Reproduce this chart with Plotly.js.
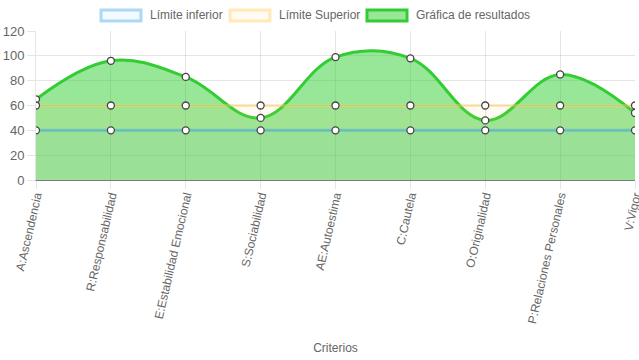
<!DOCTYPE html>
<html>
<head>
<meta charset="utf-8">
<script src="https://cdn.plot.ly/plotly-3.0.1.min.js"></script>
<style>html,body{margin:0;padding:0;background:#fff}#chart{width:639px;height:360px}</style>
</head>
<body>
<div id="chart"></div>
<script>
const categories = ["A:Ascendencia","R:Responsabilidad","E:Estabilidad Emocional","S:Sociabilidad","AE:Autoestima","C:Cautela","O:Originalidad","P:Relaciones Personales","V:Vigor"];
const limiteInferior = [40,40,40,40,40,40,40,40,40];
const limiteSuperior = [60,60,60,60,60,60,60,60,60];
const resultados = [65,96,83,50,99,98,48,85,54];
const seriesNames = ["Límite inferior","Límite Superior","Gráfica de resultados"];

const FAM = '"Liberation Sans", Arial, sans-serif';
const marker = {size:7, color:'#fff', line:{color:'#444', width:1.3}};
const font = {family:FAM, size:12, color:'#666'};
const font13 = {family:FAM, size:13, color:'#666'};

const M = {l:36, r:4, t:31, b:180}, W = 639, H = 360;
const PW = W - M.l - M.r, PH = H - M.t - M.b;
const px = v => (v - M.l) / PW;          // pixel x -> paper x
const py = v => (H - M.b - v) / PH;       // pixel y -> paper y

const seriesStyle = [
  {line:'rgba(54,162,235,0.4)', fill:'rgba(54,162,235,0.06)'},
  {line:'rgba(255,206,86,0.4)', fill:'rgba(255,206,86,0.08)'},
  {line:'rgb(50,205,50)', fill:'rgba(50,205,50,0.5)'}
];

const traces = [
  {x:categories, y:resultados, name:seriesNames[2], type:'scatter', mode:'lines',
   line:{color:seriesStyle[2].line, width:3, shape:'spline', smoothing:1.1},
   fill:'tozeroy', fillcolor:seriesStyle[2].fill},
  {x:categories, y:limiteSuperior, name:seriesNames[1], type:'scatter', mode:'lines',
   line:{color:seriesStyle[1].line, width:3},
   fill:'tozeroy', fillcolor:seriesStyle[1].fill},
  {x:categories, y:limiteInferior, name:seriesNames[0], type:'scatter', mode:'lines',
   line:{color:'rgba(54,162,235,0.45)', width:3},
   fill:'tozeroy', fillcolor:'rgba(54,162,235,0.05)'},
  {x:categories, y:resultados, type:'scatter', mode:'markers', marker:marker},
  {x:categories, y:limiteSuperior, type:'scatter', mode:'markers', marker:marker},
  {x:categories, y:limiteInferior, type:'scatter', mode:'markers', marker:marker}
];

// Chart.js-style legend boxes
const legendBoxes = [[100,142],[229,271],[366,408]];
const legendText = [148,277,414];
const shapes = [], annotations = [];
seriesNames.forEach((n,i) => {
  shapes.push({type:'rect', xref:'paper', yref:'paper',
    x0:px(legendBoxes[i][0]+1), x1:px(legendBoxes[i][1]-1), y0:py(21), y1:py(10),
    line:{color:seriesStyle[i].line, width:3}, fillcolor:seriesStyle[i].fill});
  annotations.push({xref:'paper', yref:'paper', x:px(legendText[i]), y:py(15.5),
    xanchor:'left', yanchor:'middle', text:n, showarrow:false, font:font});
});

const layout = {
  width:W, height:H, margin:M,
  paper_bgcolor:'#fff', plot_bgcolor:'#fff',
  font:font, showlegend:false,
  shapes:shapes, annotations:annotations,
  xaxis:{type:'category', range:[0,8], tickangle:-77, tickfont:font,
         showgrid:true, gridcolor:'rgba(0,0,0,0.1)', gridwidth:1,
         showline:true, linecolor:'rgba(0,0,0,0.3)', linewidth:1,
         ticks:'outside', ticklen:8, tickcolor:'rgba(0,0,0,0.1)', ticklabelstandoff:-5,
         title:{text:'Criterios', font:font, standoff:19}, automargin:false},
  yaxis:{range:[0,120], dtick:20, tickfont:font13,
         showgrid:true, gridcolor:'rgba(0,0,0,0.1)', gridwidth:1,
         showline:true, linecolor:'rgba(0,0,0,0.1)', zeroline:true, zerolinecolor:'rgba(0,0,0,0.3)',
         ticks:'outside', ticklen:8, tickcolor:'rgba(0,0,0,0.1)', automargin:false}
};
Plotly.newPlot('chart', traces, layout, {displayModeBar:false, staticPlot:true});
</script>
</body>
</html>
